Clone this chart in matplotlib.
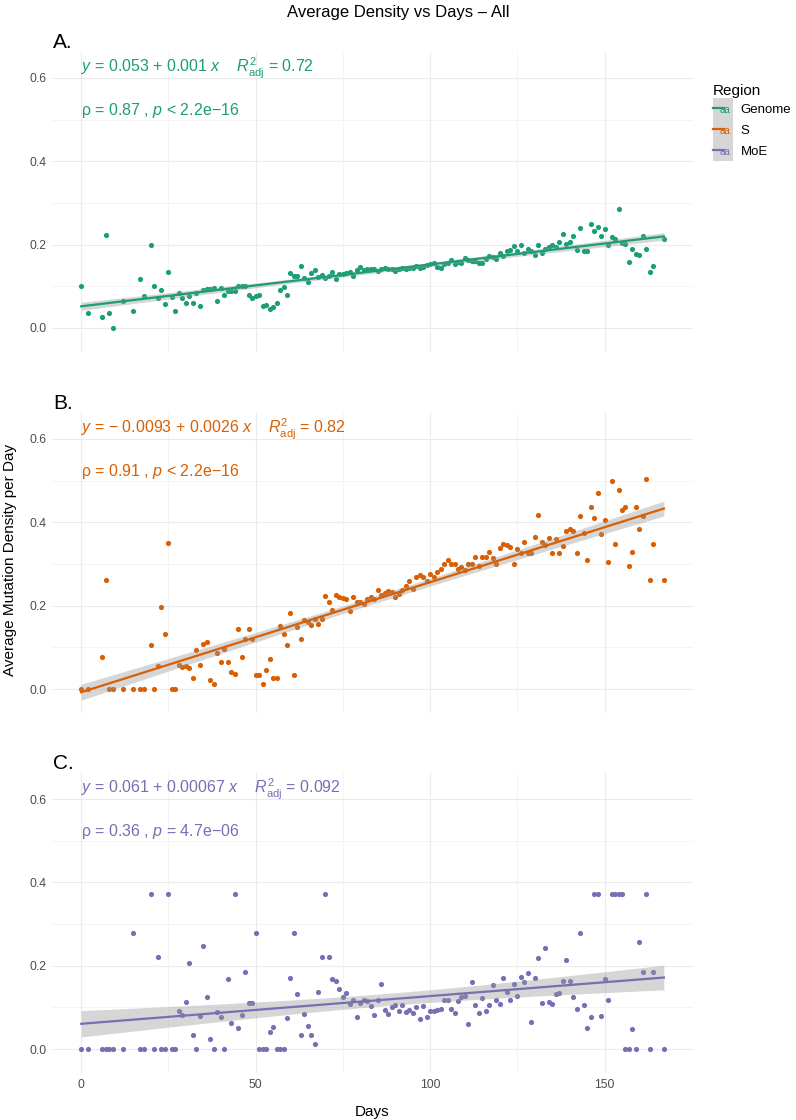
import numpy as np
import matplotlib
matplotlib.use('Agg')
import matplotlib.pyplot as plt
from matplotlib.legend_handler import HandlerBase
from matplotlib.patches import Rectangle
from matplotlib.lines import Line2D
from matplotlib.text import Text

plt.rcParams['font.family'] = ['Liberation Sans', 'DejaVu Sans']
plt.rcParams['mathtext.fontset'] = 'custom'
plt.rcParams['mathtext.rm'] = 'Liberation Sans'
plt.rcParams['mathtext.it'] = 'Liberation Sans:italic'
plt.rcParams['mathtext.bf'] = 'Liberation Sans:bold'

# sampling days (shared by all three regions)
days = [0, 2, 6, 7, 8, 9, 12, 15, 17, 18,
        20, 21, 22, 23, 24, 25, 26, 27, 28, 29,
        30, 31, 32, 33, 34, 35, 36, 37, 38, 39,
        40, 41, 42, 43, 44, 45, 46, 47, 48, 49,
        50, 51, 52, 53, 54, 55, 56, 57, 58, 59,
        60, 61, 62, 63, 64, 65, 66, 67, 68, 69,
        70, 71, 72, 73, 74, 75, 76, 77, 78, 79,
        80, 81, 82, 83, 84, 85, 86, 87, 88, 89,
        90, 91, 92, 93, 94, 95, 96, 97, 98, 99,
        100, 101, 102, 103, 104, 105, 106, 107, 108, 109,
        110, 111, 112, 113, 114, 115, 116, 117, 118, 119,
        120, 121, 122, 123, 124, 125, 126, 127, 128, 129,
        130, 131, 132, 133, 134, 135, 136, 137, 138, 139,
        140, 141, 142, 143, 144, 145, 146, 147, 148, 149,
        150, 151, 152, 153, 154, 155, 156, 157, 158, 159,
        160, 161, 162, 163, 164, 167]

genome = [0.100, 0.035, 0.027, 0.223, 0.035, 0.000, 0.066, 0.042, 0.117, 0.077,
          0.200, 0.100, 0.073, 0.092, 0.057, 0.134, 0.075, 0.042, 0.084, 0.073,
          0.060, 0.076, 0.060, 0.085, 0.052, 0.092, 0.094, 0.094, 0.095, 0.064,
          0.096, 0.079, 0.090, 0.090, 0.090, 0.100, 0.100, 0.100, 0.080, 0.073,
          0.076, 0.079, 0.054, 0.055, 0.045, 0.050, 0.060, 0.092, 0.099, 0.080,
          0.131, 0.124, 0.125, 0.149, 0.119, 0.110, 0.132, 0.140, 0.122, 0.128,
          0.120, 0.125, 0.135, 0.118, 0.129, 0.130, 0.132, 0.135, 0.124, 0.139,
          0.147, 0.140, 0.141, 0.141, 0.141, 0.137, 0.141, 0.144, 0.141, 0.141,
          0.137, 0.141, 0.143, 0.141, 0.143, 0.145, 0.149, 0.143, 0.147, 0.152,
          0.154, 0.156, 0.147, 0.145, 0.154, 0.157, 0.163, 0.153, 0.159, 0.157,
          0.168, 0.163, 0.162, 0.160, 0.157, 0.155, 0.165, 0.172, 0.170, 0.166,
          0.179, 0.173, 0.186, 0.188, 0.198, 0.186, 0.199, 0.180, 0.190, 0.186,
          0.176, 0.199, 0.179, 0.189, 0.194, 0.199, 0.194, 0.207, 0.225, 0.202,
          0.207, 0.222, 0.188, 0.240, 0.184, 0.184, 0.250, 0.233, 0.242, 0.222,
          0.238, 0.199, 0.219, 0.214, 0.286, 0.203, 0.202, 0.158, 0.189, 0.178,
          0.175, 0.222, 0.189, 0.134, 0.149, 0.213]

spike = [0.000, 0.000, 0.076, 0.262, 0.000, 0.000, 0.000, 0.000, 0.000, 0.000,
         0.106, 0.000, 0.056, 0.198, 0.132, 0.350, 0.000, 0.000, 0.057, 0.053,
         0.056, 0.050, 0.026, 0.093, 0.057, 0.108, 0.114, 0.022, 0.012, 0.086,
         0.065, 0.097, 0.066, 0.040, 0.036, 0.144, 0.078, 0.121, 0.145, 0.120,
         0.034, 0.034, 0.013, 0.046, 0.071, 0.026, 0.026, 0.151, 0.132, 0.106,
         0.183, 0.034, 0.149, 0.120, 0.165, 0.160, 0.154, 0.167, 0.156, 0.169,
         0.224, 0.208, 0.190, 0.225, 0.221, 0.218, 0.216, 0.188, 0.220, 0.208,
         0.210, 0.205, 0.216, 0.222, 0.217, 0.237, 0.225, 0.230, 0.235, 0.232,
         0.221, 0.228, 0.237, 0.247, 0.260, 0.239, 0.269, 0.274, 0.268, 0.259,
         0.277, 0.270, 0.281, 0.287, 0.300, 0.309, 0.301, 0.300, 0.289, 0.294,
         0.286, 0.301, 0.301, 0.317, 0.296, 0.316, 0.317, 0.329, 0.315, 0.299,
         0.338, 0.349, 0.345, 0.341, 0.299, 0.337, 0.327, 0.352, 0.327, 0.327,
         0.364, 0.417, 0.354, 0.345, 0.363, 0.326, 0.361, 0.326, 0.343, 0.380,
         0.384, 0.380, 0.327, 0.415, 0.375, 0.310, 0.438, 0.411, 0.470, 0.371,
         0.405, 0.304, 0.499, 0.349, 0.477, 0.429, 0.437, 0.295, 0.328, 0.437,
         0.383, 0.416, 0.505, 0.262, 0.349, 0.262]

moe = [0.000, 0.000, 0.000, 0.000, 0.000, 0.000, 0.000, 0.278, 0.000, 0.000,
       0.371, 0.000, 0.222, 0.000, 0.000, 0.371, 0.000, 0.000, 0.092, 0.082,
       0.114, 0.206, 0.034, 0.000, 0.079, 0.247, 0.126, 0.024, 0.000, 0.089,
       0.077, 0.000, 0.168, 0.063, 0.371, 0.051, 0.082, 0.186, 0.111, 0.111,
       0.278, 0.000, 0.000, 0.000, 0.042, 0.053, 0.000, 0.000, 0.000, 0.074,
       0.171, 0.278, 0.133, 0.034, 0.083, 0.055, 0.034, 0.013, 0.137, 0.220,
       0.371, 0.220, 0.168, 0.164, 0.144, 0.124, 0.134, 0.107, 0.118, 0.076,
       0.111, 0.117, 0.115, 0.103, 0.082, 0.117, 0.157, 0.094, 0.084, 0.100,
       0.105, 0.092, 0.105, 0.090, 0.094, 0.086, 0.101, 0.071, 0.103, 0.076,
       0.091, 0.091, 0.093, 0.095, 0.117, 0.117, 0.097, 0.086, 0.115, 0.124,
       0.127, 0.060, 0.160, 0.106, 0.086, 0.122, 0.091, 0.106, 0.154, 0.117,
       0.109, 0.171, 0.137, 0.117, 0.156, 0.127, 0.172, 0.161, 0.182, 0.066,
       0.171, 0.218, 0.110, 0.243, 0.114, 0.108, 0.132, 0.134, 0.164, 0.214,
       0.164, 0.125, 0.097, 0.278, 0.105, 0.051, 0.076, 0.371, 0.371, 0.080,
       0.168, 0.117, 0.371, 0.371, 0.371, 0.371, 0.000, 0.000, 0.047, 0.000,
       0.256, 0.186, 0.371, 0.000, 0.186, 0.000]

regions = ['Genome', 'S', 'MoE']
colors = ['#1B9E77', '#D95F02', '#7570B3']
panel_labels = ['A.', 'B.', 'C.']
eq_texts = [r'$y$ = 0.053 + 0.001 $x$    $R^{2}_{\mathrm{adj}}$ = 0.72',
            r'$y$ = − 0.0093 + 0.0026 $x$    $R^{2}_{\mathrm{adj}}$ = 0.82',
            r'$y$ = 0.061 + 0.00067 $x$    $R^{2}_{\mathrm{adj}}$ = 0.092']
rho_texts = [r'ρ = 0.87 , $p$ < 2.2e−16',
             r'ρ = 0.91 , $p$ < 2.2e−16',
             r'ρ = 0.36 , $p$ = 4.7e−06']
series = [genome, spike, moe]


def fit_band(x, y):
    # linear fit with 95% confidence band, like geom_smooth(method = "lm")
    coef = np.polyfit(x, y, 1)
    xs = np.linspace(x.min(), x.max(), 80)
    yhat = np.polyval(coef, xs)
    resid = y - np.polyval(coef, x)
    n = len(x)
    s = np.sqrt(np.sum(resid ** 2) / (n - 2))
    se = s * np.sqrt(1 / n + (xs - x.mean()) ** 2 / np.sum((x - x.mean()) ** 2))
    return xs, yhat, yhat - 1.975 * se, yhat + 1.975 * se


class KeyHandler(HandlerBase):
    def create_artists(self, legend, orig_handle, xdescent, ydescent,
                       width, height, fontsize, trans):
        c = orig_handle.get_color()
        x0, y0 = -xdescent, -ydescent
        rect = Rectangle((x0, y0), width, height, facecolor='#d6d6d6',
                         edgecolor='none', transform=trans)
        line = Line2D([x0, x0 + width * 0.55], [y0 + height / 2] * 2,
                      color=c, lw=1.6, transform=trans)
        txt = Text(x0 + width * 0.62, y0 + height / 2 - 1, 'aa', color=c,
                   fontsize=fontsize * 0.75, ha='center', va='center',
                   transform=trans)
        return [rect, line, txt]


W, H = 796, 1120
fig = plt.figure(figsize=(W / 100, H / 100), dpi=100)

left, right = 52 / W, 693 / W
tops = [52, 413, 773]
ph = 300

x = np.array(days, dtype=float)
handles = []
for i in range(3):
    y = np.array(series[i])
    ax = fig.add_axes([left, 1 - (tops[i] + ph) / H, right - left, ph / H])
    ax.scatter(x, y, s=14, color=colors[i], linewidths=0, zorder=2)
    xs, yhat, lo, hi = fit_band(x, y)
    ax.fill_between(xs, lo, hi, color='#999999', alpha=0.4, linewidth=0, zorder=3)
    ax.plot(xs, yhat, color=colors[i], lw=1.6, zorder=4)

    ax.set_xlim(-8.35, 175.35)
    ax.set_ylim(-0.0576, 0.6624)
    ax.set_xticks([0, 50, 100, 150])
    ax.set_xticks([25, 75, 125], minor=True)
    ax.set_yticks([0.0, 0.2, 0.4, 0.6])
    ax.set_yticks([0.1, 0.3, 0.5], minor=True)
    ax.set_yticklabels(['0.0', '0.2', '0.4', '0.6'])
    ax.grid(True, which='major', color='#EBEBEB', lw=0.8, zorder=0)
    ax.grid(True, which='minor', color='#F0F0F0', lw=0.5, zorder=0)
    ax.set_axisbelow(True)
    for sp in ax.spines.values():
        sp.set_visible(False)
    ax.tick_params(which='both', length=0, labelsize=8.8, labelcolor='#4D4D4D', pad=4)
    if i < 2:
        ax.tick_params(axis='x', labelbottom=False)

    ax.text(0, 0.624, eq_texts[i], color=colors[i], fontsize=11.5,
            ha='left', va='center')
    ax.text(0, 0.523, rho_texts[i], color=colors[i], fontsize=11.5,
            ha='left', va='center')
    fig.text(53 / W, 1 - (tops[i] - 4) / H, panel_labels[i], fontsize=15,
             ha='left', va='baseline')
    handles.append(Line2D([], [], color=colors[i], label=regions[i]))

fig.text(0.5, 1 - 12 / H, 'Average Density vs Days – All', fontsize=12,
         ha='center', va='center')
fig.text(372.5 / W, 1 - 1112 / H, 'Days', fontsize=11, ha='center', va='center')
fig.text(10 / W, 0.5, 'Average Mutation Density per Day', fontsize=11,
         rotation=90, ha='center', va='center')

leg = fig.legend(handles=handles, labels=regions, title='Region',
                 loc='upper left', bbox_to_anchor=(701 / W, 1 - 72 / H),
                 frameon=False, fontsize=9.5, title_fontsize=11,
                 handlelength=1.5, handleheight=2.07, labelspacing=0,
                 handletextpad=0.6, alignment='left',
                 handler_map={Line2D: KeyHandler()})

fig.savefig('out.png', dpi=100)
